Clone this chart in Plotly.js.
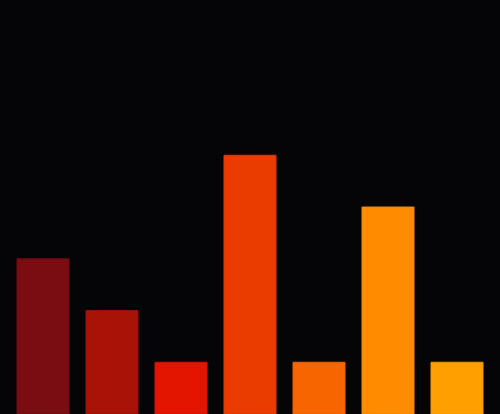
<!DOCTYPE html>
<html>
<head>
<meta charset="utf-8">
<script src="https://cdn.plot.ly/plotly-3.0.1.min.js"></script>
<style>
  html, body { margin: 0; padding: 0; background: #050407; }
  #chart { width: 500px; height: 414px; }
</style>
</head>
<body>
<div id="chart"></div>
<script>
var categories = ["A", "B", "C", "D", "E", "F", "G"];
var values = [3, 2, 1, 5, 1, 4, 1];
var colors = ["#7a0d11", "#a81207", "#e31400", "#ea3b00", "#f76500", "#ff8c00", "#ffa000"];
var edges = ["#6e0b0e", "#991005", "#d11200", "#dc3700", "#e85f00", "#f08400", "#f09600"];

var trace = {
  type: "bar",
  x: categories,
  y: values,
  marker: {color: colors, line: {color: edges, width: 1}},
  hoverinfo: "x+y"
};

var layout = {
  width: 500,
  height: 414,
  margin: {l: 0, r: 0, t: 0, b: 0},
  paper_bgcolor: "#050407",
  plot_bgcolor: "#050407",
  bargap: 0.246,
  showlegend: false,
  xaxis: {visible: false, range: [-0.623, 6.623]},
  yaxis: {visible: false, range: [0, 8]}
};

Plotly.newPlot("chart", [trace], layout, {displayModeBar: false});
</script>
</body>
</html>
